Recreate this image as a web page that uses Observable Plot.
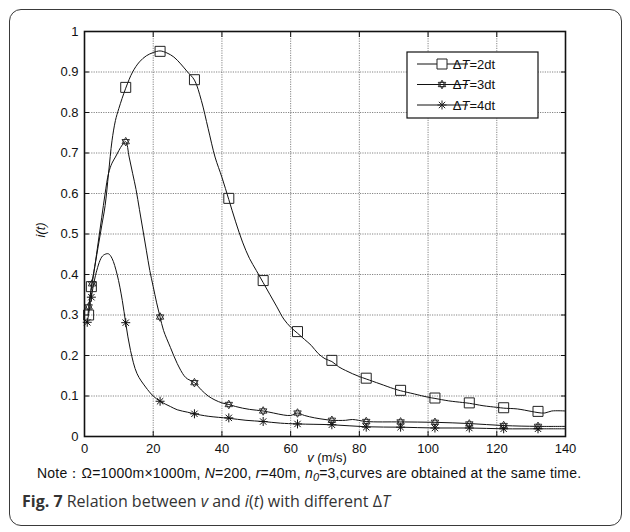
<!DOCTYPE html>
<html>
<head>
<meta charset="utf-8">
<script src="https://cdn.jsdelivr.net/npm/d3@7"></script>
<script src="https://cdn.jsdelivr.net/npm/@observablehq/plot@0.6"></script>
<style>
  html, body { margin: 0; padding: 0; background: #fff; }
  #fig { position: relative; width: 630px; height: 532px; overflow: hidden; font-family: "Liberation Sans", Arial, sans-serif; }
  #frame { position: absolute; left: 9px; top: 9px; width: 613px; height: 517px; border: 1.5px solid #3a3a3a; border-radius: 12px; box-sizing: border-box; }
  #chart { position: absolute; left: 0; top: 0; }
  #note { position: absolute; left: 37px; top: 465px; font-size: 14px; line-height: 16px; letter-spacing: 0.2px; color: #111; white-space: nowrap; }
  #caption { position: absolute; left: 22px; top: 490px; font-family: "Open Sans", "Noto Sans", sans-serif; font-size: 16px; color: #333; white-space: nowrap; }
</style>
</head>
<body>
<div id="fig">
  <div id="frame"></div>
  <div id="chart"></div>
  <div id="note">Note：Ω=1000m×1000m, <i>N</i>=200, <i>r</i>=40m, <i>n</i><sub style="font-size:11px;vertical-align:-3px;font-style:italic">0</sub>=3,curves are obtained at the same time.</div>
  <div id="caption"><b style="color:#333">Fig. 7</b> Relation between <i>v</i> and <i>i</i>(<i>t</i>) with different Δ<i>T</i></div>
</div>
<script>
// ---- data ----
const seriesNames = ["ΔT=2dt", "ΔT=3dt", "ΔT=4dt"];

// ΔT=2dt curve
const line2V = [1, 2, 3, 4, 5, 6, 7, 8, 9, 10, 12, 14, 16, 18, 20, 22, 24, 26, 28, 30, 32, 34, 36, 38, 40, 42, 44, 46, 48, 50, 52, 54, 56, 58, 60, 62, 64, 66, 68, 70, 72, 74, 76, 78, 80, 82, 86, 90, 92, 96, 100, 102, 106, 110, 112, 116, 120, 122, 126, 130, 132, 134, 136, 140];
const line2I = [0.30, 0.37, 0.42, 0.47, 0.52, 0.57, 0.65, 0.73, 0.78, 0.81, 0.86, 0.90, 0.925, 0.94, 0.948, 0.952, 0.947, 0.937, 0.92, 0.90, 0.88, 0.83, 0.76, 0.69, 0.64, 0.585, 0.53, 0.48, 0.44, 0.41, 0.38, 0.35, 0.32, 0.29, 0.27, 0.255, 0.24, 0.225, 0.205, 0.192, 0.185, 0.172, 0.163, 0.155, 0.148, 0.142, 0.13, 0.118, 0.113, 0.105, 0.097, 0.094, 0.088, 0.084, 0.082, 0.076, 0.072, 0.07, 0.068, 0.062, 0.059, 0.058, 0.063, 0.063];
const mark2V = [1.2, 2, 12, 22, 32, 42, 52, 62, 72, 82, 92, 102, 112, 122, 132];
const mark2I = [0.30, 0.37, 0.862, 0.951, 0.881, 0.588, 0.385, 0.259, 0.188, 0.144, 0.114, 0.095, 0.083, 0.071, 0.062];

// ΔT=3dt curve
const line3V = [1.2, 2.2, 3, 4, 5, 6, 7, 8, 9, 10, 11, 12, 13, 14, 15, 16, 17, 18, 19, 20, 21, 22, 23, 25, 27, 29, 30, 32, 34, 36, 38, 40, 42, 44, 46, 48, 50, 52, 55, 58, 60, 62, 64, 67, 70, 72, 76, 78, 82, 92, 102, 112, 122, 132, 140];
const line3I = [0.32, 0.377, 0.42, 0.48, 0.54, 0.60, 0.65, 0.675, 0.69, 0.706, 0.72, 0.728, 0.69, 0.65, 0.61, 0.56, 0.51, 0.46, 0.41, 0.37, 0.33, 0.295, 0.262, 0.22, 0.18, 0.15, 0.142, 0.133, 0.115, 0.10, 0.09, 0.083, 0.079, 0.074, 0.07, 0.067, 0.065, 0.063, 0.058, 0.053, 0.052, 0.058, 0.052, 0.046, 0.042, 0.040, 0.040, 0.042, 0.037, 0.036, 0.035, 0.032, 0.027, 0.025, 0.025];
const mark3V = [1.2, 2.2, 12, 22, 32, 42, 52, 62, 72, 82, 92, 102, 112, 122, 132];
const mark3I = [0.32, 0.377, 0.728, 0.295, 0.133, 0.079, 0.063, 0.058, 0.040, 0.037, 0.036, 0.035, 0.031, 0.027, 0.025];

// ΔT=4dt curve
const line4V = [0.8, 2, 3.2, 5, 6, 7, 8, 9.5, 11, 12, 13.4, 15.3, 17.8, 20, 22, 25, 27, 30, 32, 36, 42, 47, 52, 57, 62, 72, 82, 92, 102, 112, 122, 132, 140];
const line4I = [0.28, 0.344, 0.398, 0.443, 0.45, 0.451, 0.44, 0.40, 0.336, 0.28, 0.212, 0.155, 0.122, 0.10, 0.087, 0.074, 0.066, 0.06, 0.056, 0.05, 0.045, 0.04, 0.037, 0.033, 0.031, 0.029, 0.024, 0.023, 0.021, 0.021, 0.019, 0.019, 0.019];
const mark4V = [0.8, 2, 12, 22, 32, 42, 52, 62, 72, 82, 92, 102, 112, 122, 132];
const mark4I = [0.282, 0.344, 0.281, 0.087, 0.056, 0.046, 0.037, 0.031, 0.029, 0.023, 0.023, 0.021, 0.021, 0.019, 0.019];

const xTicks = [0, 20, 40, 60, 80, 100, 120, 140];
const yTicks = [0, 0.1, 0.2, 0.3, 0.4, 0.5, 0.6, 0.7, 0.8, 0.9, 1];
const yTickLabels = ["0", "0.1", "0.2", "0.3", "0.4", "0.5", "0.6", "0.7", "0.8", "0.9", "1"];

// ---- custom symbols ----
const hexagram = {
  draw(ctx, size) {
    const R = Math.sqrt(size / Math.PI);
    for (const off of [-Math.PI / 2, Math.PI / 2]) {
      for (let k = 0; k < 3; k++) {
        const a = off + k * 2 * Math.PI / 3;
        const x = R * Math.cos(a), y = R * Math.sin(a);
        if (k === 0) ctx.moveTo(x, y); else ctx.lineTo(x, y);
      }
      ctx.closePath();
    }
  }
};
const asterisk8 = {
  draw(ctx, size) {
    const R = Math.sqrt(size / Math.PI);
    for (let k = 0; k < 4; k++) {
      const a = k * Math.PI / 4;
      ctx.moveTo(-R * Math.cos(a), -R * Math.sin(a));
      ctx.lineTo(R * Math.cos(a), R * Math.sin(a));
    }
  }
};
const squareSym = {
  draw(ctx, size) {
    const h = Math.sqrt(size / Math.PI);
    ctx.moveTo(-h, -h); ctx.lineTo(h, -h); ctx.lineTo(h, h); ctx.lineTo(-h, h); ctx.closePath();
  }
};

const zip = (vs, is, s) => vs.map((v, k) => ({v, i: is[k], s}));
const lines = [
  ...zip(line2V, line2I, seriesNames[0]),
  ...zip(line3V, line3I, seriesNames[1]),
  ...zip(line4V, line4I, seriesNames[2])
];
const marks2 = zip(mark2V, mark2I, seriesNames[0]);
const marks3 = zip(mark3V, mark3I, seriesNames[1]);
const marks4 = zip(mark4V, mark4I, seriesNames[2]);

const blank = () => "";
const plot = Plot.plot({
  width: 630,
  height: 470,
  marginLeft: 84,
  marginRight: 65,
  marginTop: 31,
  marginBottom: 34,
  style: {fontFamily: "'Liberation Sans', Arial, sans-serif", fontSize: "13px", color: "#111", background: "transparent", overflow: "visible"},
  x: {domain: [0, 140]},
  y: {domain: [0, 1]},
  marks: [
    Plot.gridX(xTicks, {stroke: "#333", strokeOpacity: 0.75, strokeWidth: 0.8, strokeDasharray: "1.2,1.2"}),
    Plot.gridY(yTicks, {stroke: "#333", strokeOpacity: 0.75, strokeWidth: 0.8, strokeDasharray: "1.2,1.2"}),
    Plot.axisX({ticks: xTicks, tickSize: 0, tickPadding: 7, label: null, fontSize: 13}),
    Plot.axisY({ticks: yTicks, tickSize: 0, tickPadding: 6, label: null, fontSize: 13,
      tickFormat: d => yTickLabels[yTicks.indexOf(d)]}),
    // inward tick marks on all four sides
    Plot.axisX({ticks: xTicks, anchor: "bottom", tickSize: -5, tickFormat: blank, label: null, stroke: "#111"}),
    Plot.axisX({ticks: xTicks, anchor: "top", tickSize: -5, tickFormat: blank, label: null, stroke: "#111"}),
    Plot.axisY({ticks: yTicks, anchor: "left", tickSize: -5, tickFormat: blank, label: null, stroke: "#111"}),
    Plot.axisY({ticks: yTicks, anchor: "right", tickSize: -5, tickFormat: blank, label: null, stroke: "#111"}),
    Plot.line(lines, {x: "v", y: "i", z: "s", stroke: "#111", strokeWidth: 1, curve: "catmull-rom"}),
    Plot.dot(marks2, {x: "v", y: "i", symbol: squareSym, r: 5, stroke: "#222", strokeWidth: 1, fill: "none"}),
    Plot.dot(marks3, {x: "v", y: "i", symbol: hexagram, r: 4.3, stroke: "#222", strokeWidth: 0.9, fill: "none"}),
    Plot.dot(marks4, {x: "v", y: "i", symbol: asterisk8, r: 4.5, stroke: "#111", strokeWidth: 1, fill: "none"}),
    Plot.frame({stroke: "#111", strokeWidth: 1.6})
  ]
});
document.getElementById("chart").appendChild(plot);

// ---- axis titles and legend ----
const svg = d3.select(plot);
svg.append("text")
  .attr("transform", "translate(45,230) rotate(-90)")
  .attr("text-anchor", "middle")
  .attr("font-size", 13)
  .attr("font-style", "italic")
  .attr("fill", "#111")
  .text("i(t)");
const xl = svg.append("text")
  .attr("x", 327).attr("y", 462)
  .attr("text-anchor", "middle")
  .attr("font-size", 13)
  .attr("fill", "#111");
xl.append("tspan").attr("font-style", "italic").text("v");
xl.append("tspan").text(" (m/s)");

const leg = svg.append("g").attr("transform", "translate(407,52)");
leg.append("rect").attr("width", 131).attr("height", 66).attr("fill", "#fff").attr("stroke", "#111").attr("stroke-width", 1.2);
const syms = [squareSym, hexagram, asterisk8];
const rs = [5, 4.3, 4.5];
seriesNames.forEach((name, k) => {
  const y = 12 + k * 20.5;
  leg.append("line").attr("x1", 10).attr("x2", 61).attr("y1", y).attr("y2", y).attr("stroke", "#111").attr("stroke-width", 1);
  leg.append("path")
    .attr("transform", `translate(35,${y})`)
    .attr("d", d3.symbol(syms[k], Math.PI * rs[k] * rs[k])())
    .attr("fill", k === 0 ? "#fff" : "none").attr("stroke", "#222").attr("stroke-width", 1);
  const t = leg.append("text").attr("x", 67).attr("y", y + 4.5).attr("font-size", 13).attr("fill", "#111");
  t.append("tspan").text("Δ");
  t.append("tspan").attr("font-style", "italic").text("T");
  t.append("tspan").text(name.slice(2));
});
</script>
</body>
</html>
